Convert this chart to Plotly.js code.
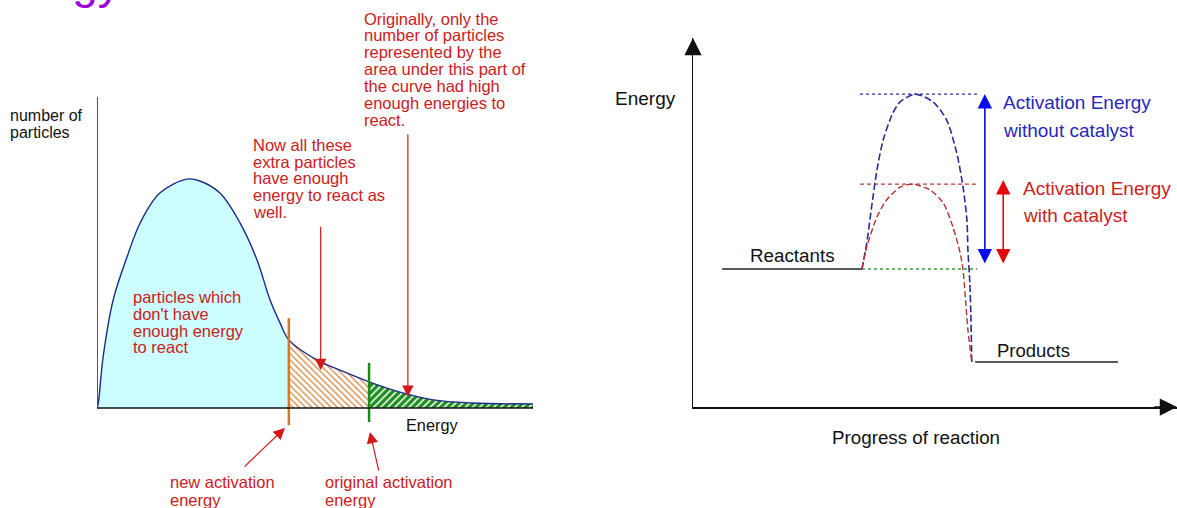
<!DOCTYPE html>
<html>
<head>
<meta charset="utf-8">
<script src="https://cdn.plot.ly/plotly-3.0.1.min.js"></script>
<style>
html,body{margin:0;padding:0;background:#fff;overflow:hidden;}
#chart{width:1177px;height:508px;}
</style>
</head>
<body>
<div id="chart"></div>
<script>
// ---------- Left panel: Maxwell-Boltzmann distribution ----------
const energy    = [0, 0.03, 0.14, 0.37, 0.69, 0.99, 1.44, 2.06, 2.36, 2.82, 3.28, 3.67, 3.97, 4.20, 4.40, 5.05, 5.57, 6.24, 6.95, 7.71, 8.62, 10];
const particles = [0, 0.16, 1.64, 3.47, 4.86, 5.95, 6.91, 7.36, 7.30, 6.91, 5.95, 4.76, 3.47, 2.73, 2.19, 1.54, 1.22, 0.84, 0.51, 0.26, 0.16, 0.13];
const newEa = 4.40;   // new activation energy (with catalyst)
const oldEa = 6.24;   // original activation energy

// ---------- Right panel: energy profile ----------
const progressUncat = [3.49, 3.59, 3.69, 3.80, 3.93, 4.13, 4.28, 4.59, 4.96, 5.24, 5.45, 5.58, 5.66, 5.68, 5.72, 5.74, 5.76];
const energyUncat   = [3.74, 4.44, 5.42, 6.42, 7.24, 7.97, 8.27, 8.48, 8.27, 7.78, 6.88, 5.96, 5.07, 4.25, 3.36, 2.55, 1.22];
const progressCat   = [3.49, 3.59, 3.80, 4.00, 4.28, 4.55, 4.90, 5.17, 5.37, 5.52, 5.58, 5.68, 5.76];
const energyCat     = [3.74, 4.34, 5.15, 5.61, 5.96, 6.04, 5.88, 5.53, 4.88, 4.17, 3.71, 2.09, 1.22];
const reactantsX = [0.60, 3.49], reactantLevel = 3.74;
const productsX  = [5.83, 8.78], productLevel  = 1.22;
const peakUncat = 8.48, peakCat = 6.04;

// ---------- Texts ----------
const txtOriginally = ["Originally, only the", "number of particles", "represented by the", "area under this part of", "the curve had high", "enough energies to", "react."];
const txtNowAll = ["Now all these", "extra particles", "have enough", "energy to react as", "well."];
const txtNotEnough = ["particles which", "don't have", "enough energy", "to react"];
const txtNewEa = ["new activation", "energy"];
const txtOldEa = ["original activation", "energy"];
const txtYLeft = ["number of", "particles"];
const txtUncat = ["Activation Energy", "without catalyst"];
const txtCat = ["Activation Energy", "with catalyst"];

const W = 1177, H = 508;
const PX = x => x / W, PY = y => 1 - y / H;
const FONT = "Liberation Sans, Arial, sans-serif";
const RED = "#cc2020";

function segment(lo, hi) {
  const xs = [], ys = [];
  energy.forEach((e, i) => { if (e >= lo - 1e-9 && e <= hi + 1e-9) { xs.push(e); ys.push(particles[i]); } });
  return {x: xs, y: ys};
}
const s1 = segment(0, newEa), s2 = segment(newEa, oldEa), s3 = segment(oldEa, 10);

const traces = [
  {x: s1.x, y: s1.y, type: 'scatter', mode: 'lines', line: {width: 0, shape: 'spline'}, fill: 'tozeroy', fillcolor: '#ccfdff', xaxis: 'x', yaxis: 'y', hoverinfo: 'skip'},
  {x: s2.x, y: s2.y, type: 'scatter', mode: 'lines', line: {width: 0, shape: 'spline'}, fill: 'tozeroy', fillcolor: '#ffffff',
   fillpattern: {shape: '\\', fgcolor: '#d48a44', bgcolor: '#ffffff', size: 4.5, solidity: 0.3}, xaxis: 'x', yaxis: 'y', hoverinfo: 'skip'},
  {x: s3.x, y: s3.y, type: 'scatter', mode: 'lines', line: {width: 0, shape: 'spline'}, fill: 'tozeroy', fillcolor: '#1f8f1f',
   fillpattern: {shape: '/', fgcolor: '#ffffff', bgcolor: '#1f8f1f', size: 5, solidity: 0.3}, xaxis: 'x', yaxis: 'y', hoverinfo: 'skip'},
  {x: energy, y: particles, type: 'scatter', mode: 'lines', line: {color: '#1c2a8a', width: 1.4, shape: 'spline'}, xaxis: 'x', yaxis: 'y'},
  {x: [newEa, newEa], y: [2.89, -0.55], type: 'scatter', mode: 'lines', line: {color: '#d27a1e', width: 2.5}, xaxis: 'x', yaxis: 'y'},
  {x: [oldEa, oldEa], y: [1.45, -0.45], type: 'scatter', mode: 'lines', line: {color: '#1b8a1b', width: 2.5}, xaxis: 'x', yaxis: 'y'},

  // right panel
  {x: reactantsX, y: [reactantLevel, reactantLevel], type: 'scatter', mode: 'lines', line: {color: '#222', width: 1.5}, xaxis: 'x2', yaxis: 'y2'},
  {x: productsX, y: [productLevel, productLevel], type: 'scatter', mode: 'lines', line: {color: '#222', width: 1.5}, xaxis: 'x2', yaxis: 'y2'},
  {x: [3.45, 5.87], y: [peakUncat, peakUncat], type: 'scatter', mode: 'lines', line: {color: '#2a2aa8', width: 1.3, dash: '3px,3px'}, xaxis: 'x2', yaxis: 'y2'},
  {x: [3.45, 5.91], y: [peakCat, peakCat], type: 'scatter', mode: 'lines', line: {color: '#c03a3a', width: 1.3, dash: '4px,3px'}, xaxis: 'x2', yaxis: 'y2'},
  {x: [reactantsX[1], 5.87], y: [reactantLevel, reactantLevel], type: 'scatter', mode: 'lines', line: {color: '#2f9a2f', width: 1.3, dash: '3px,3px'}, xaxis: 'x2', yaxis: 'y2'},
  {x: progressUncat, y: energyUncat, type: 'scatter', mode: 'lines', line: {color: '#2b2ba0', width: 1.6, dash: '7px,3px', shape: 'spline', smoothing: 0.7}, xaxis: 'x2', yaxis: 'y2'},
  {x: progressCat, y: energyCat, type: 'scatter', mode: 'lines', line: {color: '#b83030', width: 1.4, dash: '6px,3px', shape: 'spline', smoothing: 0.7}, xaxis: 'x2', yaxis: 'y2'}
];

const ann = [];
function lines(arr, x, y0, dy, color, size, anchor) {
  arr.forEach((t, i) => ann.push({text: t, xref: 'paper', yref: 'paper', x: PX(x), y: PY(y0 + i * dy),
    xanchor: anchor || 'left', yanchor: 'middle', showarrow: false, font: {family: FONT, size: size, color: color}}));
}
lines(txtOriginally, 362, 18.5, 16.95, RED, 16.5);
lines(txtNowAll, 251, 145, 16.7, RED, 16.5);
lines(txtNotEnough, 131, 297, 16.8, RED, 16.5);
lines(txtNewEa, 168, 482, 17.5, RED, 16.5);
lines(txtOldEa, 323, 482, 17.5, RED, 16.5);
lines(txtYLeft, 8, 115, 17, '#111', 16);
lines(txtUncat, 1001, 103, 27, '#2828b8', 19);
lines(txtCat, 1021, 188.5, 27, '#cc2222', 19);
lines(['Energy'], 432, 425, 0, '#111', 16.3, 'center');
lines(['Energy'], 645, 98, 0, '#111', 19, 'center');
lines(['Reactants'], 792, 255, 0, '#111', 18.8, 'center');
lines(['Products'], 1033, 350, 0, '#111', 18.5, 'center');
lines(['Progress of reaction'], 916, 437, 0, '#111', 18.8, 'center');
// cut-off title fragment at the very top (only the descenders show, as in the reference)
ann.push({text: 'Energy', xref: 'paper', yref: 'paper', x: PX(123), y: PY(10), xanchor: 'right', yanchor: 'bottom', showarrow: false,
  font: {family: FONT, size: 46, color: '#a000d8'}});

function arrow(xr, yr, x, y, ax, ay, color, w, size, both) {
  const a = {text: '', xref: xr, yref: yr, axref: xr, ayref: yr, x: x, y: y, ax: ax, ay: ay, showarrow: true,
    arrowcolor: color, arrowwidth: w, arrowhead: 2, arrowsize: size, standoff: 0, startstandoff: 0};
  if (both) { a.arrowside = 'end+start'; a.startarrowhead = 2; a.startarrowsize = size; }
  ann.push(a);
}
// left panel red arrows
arrow('x', 'y', 5.13, 1.22, 5.13, 5.88, '#d41818', 1.2, 1.9);
arrow('x', 'y', 7.13, 0.36, 7.13, 8.84, '#d41818', 1.2, 1.9);
arrow('x', 'y', newEa - 0.09, -0.64, 3.35, -1.93, '#d41818', 1.2, 1.9);
arrow('x', 'y', oldEa + 0.02, -0.77, 6.47, -2.06, '#d41818', 1.2, 1.9);
// right panel activation energy arrows
arrow('x2', 'y2', 6.03, peakUncat, 6.03, 3.85, '#0a0aee', 1.6, 1.8, true);
arrow('x2', 'y2', 6.41, 6.15, 6.41, 3.85, '#e00a0a', 1.6, 1.8, true);
// axis arrowheads
arrow('x2', 'y2', 10, 0, 9.5, 0, '#111', 1.5, 2.3);
arrow('x2', 'y2', 0, 10, 0, 9.5, '#111', 1.5, 2.3);

const hidden = {showgrid: false, zeroline: false, showticklabels: false, ticks: '', showline: false, fixedrange: true};
const layout = {
  width: W, height: H, margin: {l: 0, r: 0, t: 0, b: 0},
  paper_bgcolor: '#fff', plot_bgcolor: 'rgba(0,0,0,0)', showlegend: false,
  xaxis: Object.assign({}, hidden, {domain: [PX(97), PX(533)], range: [0, 10], anchor: 'y'}),
  yaxis: Object.assign({}, hidden, {domain: [0, PY(97)], range: [-100 / 31.1, 10], anchor: 'x'}),
  xaxis2: Object.assign({}, hidden, {domain: [PX(693), 1], range: [0, 10], anchor: 'y2', showline: true, linecolor: '#111', linewidth: 1.5}),
  yaxis2: Object.assign({}, hidden, {domain: [PY(407), PY(38)], range: [0, 10], anchor: 'x2', showline: true, linecolor: '#111', linewidth: 1.5}),
  shapes: [
    {type: 'line', xref: 'x', yref: 'y', x0: 0, y0: 0, x1: 0, y1: 10, line: {color: '#555', width: 2}},
    {type: 'line', xref: 'x', yref: 'y', x0: 0, y0: 0, x1: 10, y1: 0, line: {color: '#111', width: 1.5}}
  ],
  annotations: ann
};
Plotly.newPlot('chart', traces, layout, {staticPlot: true, displayModeBar: false});
</script>
</body>
</html>
